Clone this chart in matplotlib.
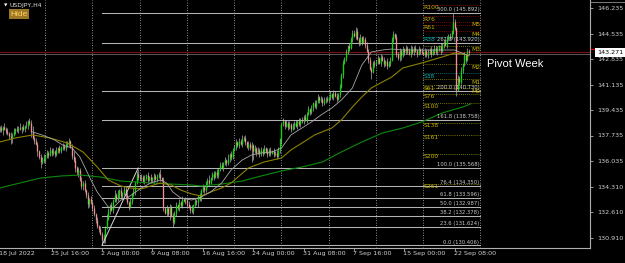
import matplotlib
matplotlib.use("Agg")
import matplotlib.pyplot as plt
from matplotlib.lines import Line2D

# ---------------- data ----------------
first_open = 138.10
closes_w = [
    [138.15,138.25,138.10,138.30,138.20,138.05,137.90,137.70,137.55,137.80,138.05,138.15,138.10,138.25,138.20,138.30,138.15,138.35,138.40,138.70,138.55,137.95,137.60,137.35,137.20,136.70,136.30,135.95,136.20,136.10],
    [136.35,136.60,136.45,136.80,136.55,136.70,136.50,136.75,136.90,136.70,136.95,137.05,136.90,137.10,137.25,137.35,137.00,136.40,136.10,135.60,135.30,135.45,134.80,134.40,134.60,134.10,133.80,133.20,133.50,133.30],
    [132.90,132.50,132.10,131.70,131.50,131.20,130.75,130.95,131.60,132.20,132.70,133.10,132.80,133.40,133.80,133.50,133.90,134.10,133.70,133.90,134.20,133.80,133.30,133.00,133.40,133.80,134.00,134.60,135.20,135.00],
    [134.90,135.00,134.70,134.90,135.10,134.80,134.95,134.75,134.90,135.05,134.85,135.00,135.20,134.90,134.80,132.90,132.60,132.90,132.50,133.00,132.40,131.95,132.60,133.10,132.90,133.30,133.10,133.50,133.40,133.45],
    [133.20,133.00,132.80,132.70,133.10,133.40,133.30,133.70,133.50,134.10,134.30,134.10,134.50,134.80,134.60,134.90,135.20,135.00,135.30,135.10,135.50,135.80,135.60,135.90,136.10,135.90,136.20,136.50,136.30,136.80],
    [137.00,137.30,137.10,137.40,137.20,137.50,137.60,137.30,137.00,137.20,136.90,137.10,136.70,136.90,136.60,136.80,136.50,136.80,136.60,136.90,136.70,136.50,136.80,136.60,136.70,136.50,136.60,136.40,136.80,137.50],
    [138.50,138.70,138.40,138.60,138.30,138.50,138.20,138.40,138.60,138.40,138.70,138.50,138.80,138.70,139.00,138.80,139.20,139.50,139.30,139.60,139.90,139.70,140.00,140.30,140.10,140.20,139.90,140.10,140.20,140.10],
    [140.30,140.50,140.30,140.60,140.40,140.20,140.50,141.00,141.80,142.60,142.90,143.30,143.70,143.60,144.20,144.60,144.40,144.70,144.20,143.90,144.30,144.00,144.20,143.80,143.40,142.80,142.20,142.00,142.60,142.50],
    [142.70,142.90,142.60,143.00,142.80,142.50,142.70,142.40,142.60,142.80,144.20,144.50,144.30,143.20,142.90,143.40,143.10,143.50,143.30,143.60,143.40,143.20,143.50,143.30,143.60,143.40,143.20,143.50,143.40,143.30],
    [143.20,143.40,143.10,143.30,143.50,143.20,143.40,143.60,143.30,143.50,143.70,143.40,143.80,144.00,143.80,144.20,144.40,144.30,144.70,145.30,144.90,140.80,141.60,141.30,142.10,142.50,143.10,142.80,143.40,143.271],
]
# upper / lower wick lengths, one digit per bar, in units of 0.1
wick_up = ("212131213121213121312241211213" "121212121212131212321212121212"
           "121212121321213121212121213123" "121212121212131212121212121212"
           "121312112121213112121221213121" "121213121212121212121212121221"
           "121212121212121212121212121212" "121212121212121223212121212112"
           "121212121212121212121232121212" "121212121212121212162121212121")
wick_dn = ("121312124312121312121312131412" "212121212112121212132312312321"
           "212121324112121213121312121212" "121212121312121212141312121212"
           "212121231112122112122112121221" "121212121219612121211212121212"
           "312121212121212121212121212121" "121212121212121212121212121512"
           "121212121212121231212121212121" "121212121212121212121412121212")

# moving averages (bar index, price)
ma_fast_bar = [22,28,36,41,47,52,59,63,70,73,78,82,91,97,103,107,111,116,123,129,135,142,148,155,161,167,174,180,186,193,199,205,212,218,225,231,237,244,250,257,269,282,290,299]
ma_fast_val = [137.97,137.77,137.435,137.10,136.90,136.30,134.77,133.97,132.97,132.90,133.435,133.57,134.235,134.57,134.77,134.57,133.97,133.57,133.435,133.635,133.97,134.57,135.435,136.10,136.435,136.57,136.635,136.90,137.77,138.235,138.635,139.10,139.57,140.10,140.90,142.435,143.30,143.435,143.50,143.435,143.435,143.435,143.435,143.035]
ma_mid_bar = [1,11,22,33,44,54,63,70,78,84,91,97,103,110,116,123,129,135,142,148,159,169,180,186,193,201,212,218,225,231,237,244,250,257,269,282,290,299]
ma_mid_val = [137.30,137.57,137.77,137.57,137.235,136.635,135.635,134.77,134.37,134.235,134.17,134.37,134.57,134.435,134.10,133.835,133.70,133.97,134.235,134.57,135.57,135.97,136.235,136.77,137.235,137.77,138.235,138.77,139.635,140.30,140.90,141.30,141.635,142.235,142.57,142.97,143.235,143.10]
ma_slow_bar = [1,14,27,40,52,65,78,97,110,123,129,142,155,167,180,193,206,218,231,244,257,269,282,295,300]
ma_slow_val = [134.235,134.57,134.90,135.035,135.10,134.97,134.70,134.57,134.50,134.435,134.37,134.50,134.70,135.035,135.37,135.635,135.97,136.635,137.30,137.90,138.235,138.635,139.235,139.635,139.835]

fib_levels = ["0.0","23.6","38.2","50.0","61.8","76.4","100.0","161.8","200.0","261.8","300.0"]
fib_prices = [130.406,131.624,132.378,132.987,133.596,134.350,135.568,138.758,140.730,143.920,145.892]
fib_anchor_bars = [66, 89]

pivot_names = ["R100","R76","R61","R38","S38","S61","S76","S100","S138","S161","S200","S261"]
pivot_prices = [146.468,145.670,145.135,144.335,141.870,141.070,140.535,139.880,138.568,137.768,136.502,134.502]
mid_names = ["M5","M4","M3","M2","M1","M0"]
mid_prices = [145.335,144.670,143.670,142.470,141.470,140.870]

price_ticks = [146.235,144.535,142.835,141.135,139.435,137.735,136.035,134.310,132.610,130.910]
time_labels = ["18 Jul 2022","25 Jul 16:00","2 Aug 00:00","9 Aug 08:00","16 Aug 16:00",
               "24 Aug 00:00","31 Aug 08:00","7 Sep 16:00","15 Sep 00:00","22 Sep 08:00"]
time_bars = [1.3, 34, 66, 98, 130, 162, 194, 226, 258, 290]
separator_bars = [30, 60, 90, 120, 150, 180, 210, 240, 270]
last_price = 143.271
symbol = "USDJPY,H4"

# ---------------- layout ----------------
W, H = 625, 263
PXB, X0 = 1.575, -2.0          # px per bar, px of bar 0
plot_right, plot_bottom = 590, 248
P_TOP = 146.235 + 8 / 15
P_BOT = 146.235 - (plot_bottom - 8) / 15

closes = [c for w in closes_w for c in w]
assert len(closes) == 300 and len(wick_up) == 300 and len(wick_dn) == 300
opens = [first_open] + closes[:-1]
highs = [max(o, c) + int(u) * 0.1 for o, c, u in zip(opens, closes, wick_up)]
lows = [min(o, c) - int(d) * 0.1 for o, c, d in zip(opens, closes, wick_dn)]
bars = list(range(len(closes)))

fig = plt.figure(figsize=(W / 100, H / 100), dpi=100, facecolor="black")
ax = fig.add_axes([0, (H - plot_bottom) / H, plot_right / W, plot_bottom / H])
ax.set_facecolor("black")
ax.set_xlim((0 - X0) / PXB, (plot_right - X0) / PXB)
ax.set_ylim(P_BOT, P_TOP)

FONT = "DejaVu Sans"
grid_c = "#c0c0c0"

# weekly separators
for b in separator_bars:
    ax.axvline(b, color=grid_c, lw=0.6, ls=(0, (1, 2)), zorder=1)
end_bar = (480 - X0) / PXB
ax.axvline(end_bar, color=grid_c, lw=0.6, ls=(0, (1, 2)), zorder=1)

# fibonacci retracement
for lvl, p in zip(fib_levels, fib_prices):
    ax.plot([fib_anchor_bars[0], end_bar], [p, p], color="#b4b4b4", lw=0.75, zorder=2)
    ax.text(end_bar - 0.4, p + 0.06, f"{lvl} ({p:.3f})", color="#c8c8c8", fontsize=3.8,
            family=FONT, ha="right", va="bottom", zorder=6)
ax.plot(fib_anchor_bars, [fib_prices[0], fib_prices[6]], color="#d8d8d8", lw=0.7, zorder=4)

# pivot levels
piv_start = separator_bars[-1]
for n, p in zip(pivot_names, pivot_prices):
    if n in ("R38", "S38"):
        lc, tc = "#008c8c", "#00b4b4"
    elif n.startswith("R"):
        lc, tc = "#a00000", "#c8b400"
    else:
        lc, tc = "#9a9a00", "#c8b400"
    ax.plot([piv_start, end_bar], [p, p], color=lc, lw=0.6, ls=(0, (1, 1.5)), zorder=2)
    ax.text(piv_start + 0.3, p - 0.02, n, color=tc, fontsize=4.3, family=FONT,
            ha="left", va="top", zorder=6)
for n, p in zip(mid_names, mid_prices):
    lc = "#a00000" if p > 144 else "#9a9a00"
    ax.plot([piv_start, end_bar], [p, p], color=lc, lw=0.6, ls=(0, (1, 1.5)), zorder=2)
    ax.text((471 - X0) / PXB, p - 0.02, n, color="#c8b400", fontsize=4.3, family=FONT,
            ha="left", va="top", zorder=6)

# current price lines
ax.axhline(last_price + 0.03, color="#781010", lw=0.8, zorder=2)
ax.axhline(last_price - 0.07, color="#5a5a5a", lw=0.7, zorder=2)

# candles
for b, o, h, l, c in zip(bars, opens, highs, lows, closes):
    ax.vlines(b, l, h, color="#c0c0c0", lw=0.45, zorder=3)
    top, bot = max(o, c), min(o, c)
    if top - bot < 0.04:
        top += 0.02
        bot -= 0.02
    ax.vlines(b, bot, top, color="#00e000" if c >= o else "#f09090", lw=0.95, zorder=3)

# moving averages
ax.plot(ma_slow_bar, ma_slow_val, color="#0c8a0c", lw=0.8, zorder=4)
ax.plot(ma_mid_bar, ma_mid_val, color="#8c8200", lw=0.8, zorder=4)
ax.plot(ma_fast_bar, ma_fast_val, color="#a8a8a8", lw=0.6, zorder=4)

# axes frame / ticks
for s in ("top", "left"):
    ax.spines[s].set_visible(False)
for s in ("right", "bottom"):
    ax.spines[s].set_color("#b0b0b0")
    ax.spines[s].set_linewidth(0.8)
ax.yaxis.tick_right()
ax.set_yticks(price_ticks)
ax.set_yticklabels([f"{p:.3f}" for p in price_ticks], family=FONT)
ax.tick_params(axis="y", colors="#b0b0b0", labelcolor="#d0d0d0", labelsize=4.6,
               length=2.5, width=0.6, pad=3)
ax.set_xticks(time_bars[1:])
ax.set_xticklabels([])
ax.tick_params(axis="x", colors="#b0b0b0", length=2, width=0.6)
for lab, b in zip(time_labels, time_bars):
    ax.text(b - 0.6, -0.012, lab, transform=ax.get_xaxis_transform(), color="#d0d0d0",
            fontsize=4.6, family=FONT, ha="left", va="top", clip_on=False)

# price label box
fig.text(597 / W, 1 - 52.5 / H, f"{last_price:.3f}", color="black", fontsize=4.6, family=FONT,
         ha="left", va="center",
         bbox=dict(boxstyle="square,pad=0.25", facecolor="white", edgecolor="white", lw=0))
fig.add_artist(Line2D([591 / W, 622 / W], [1 - 48.5 / H, 1 - 48.5 / H], color="#e00000", lw=0.9))
fig.add_artist(Line2D([590 / W, 625 / W], [1 - 2 / H, 1 - 2 / H], color="#909090", lw=0.6))

# top-left captions
fig.text(4 / W, 1 - 5.5 / H, "\u25BC", color="white", fontsize=3.2, family=FONT, ha="left", va="center")
fig.text(10 / W, 1 - 5.5 / H, symbol, color="#e0e0e0", fontsize=4.4, family=FONT, ha="left", va="center")
fig.text(10 / W, 1 - 14 / H, "Hide", color="#ffd060", fontsize=6, family="Liberation Sans",
         ha="left", va="center",
         bbox=dict(boxstyle="square,pad=0.15", facecolor="#9c7826", edgecolor="none"))

fig.text(487 / W, 1 - 64 / H, "Pivot Week", color="white", fontsize=8, family="Liberation Sans",
         ha="left", va="center")

fig.savefig("out.png", dpi=100, facecolor="black")
